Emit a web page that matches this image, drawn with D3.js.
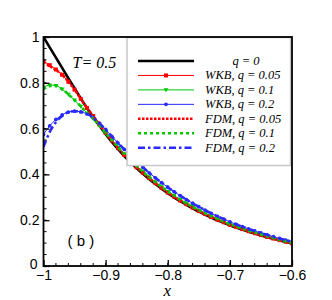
<!DOCTYPE html>
<html>
<head>
<meta charset="utf-8">
<script src="https://cdn.jsdelivr.net/npm/d3@7"></script>
<style>
  body { margin: 0; background: #fff; }
  svg { display: block; }
</style>
</head>
<body>
<script>
// x grid shared by every curve
var xs = [-1.00, -0.99, -0.98, -0.97, -0.96, -0.95, -0.94, -0.93, -0.92, -0.91,
          -0.90, -0.89, -0.88, -0.87, -0.86, -0.85, -0.84, -0.83, -0.82, -0.81,
          -0.80, -0.79, -0.78, -0.77, -0.76, -0.75, -0.74, -0.73, -0.72, -0.71,
          -0.70, -0.69, -0.68, -0.67, -0.66, -0.65, -0.64, -0.63, -0.62, -0.61, -0.60];

var q0 = [1.000, 0.955, 0.910, 0.865, 0.820, 0.776, 0.732, 0.690, 0.650, 0.612,
          0.576, 0.542, 0.510, 0.480, 0.453, 0.427, 0.403, 0.380, 0.358, 0.338,
          0.318, 0.300, 0.283, 0.267, 0.252, 0.238, 0.225, 0.212, 0.200, 0.189,
          0.178, 0.168, 0.159, 0.150, 0.142, 0.134, 0.126, 0.119, 0.112, 0.105, 0.098];

var wkb05 = [0.895, 0.877, 0.858, 0.835, 0.805, 0.770, 0.730, 0.690, 0.655, 0.618,
             0.582, 0.548, 0.515, 0.485, 0.457, 0.431, 0.407, 0.384, 0.362, 0.341,
             0.321, 0.303, 0.286, 0.270, 0.255, 0.240, 0.227, 0.214, 0.202, 0.191,
             0.180, 0.170, 0.161, 0.152, 0.143, 0.135, 0.127, 0.120, 0.113, 0.106, 0.099];

var wkb10 = [0.780, 0.790, 0.788, 0.772, 0.750, 0.724, 0.697, 0.668, 0.643, 0.613,
             0.580, 0.550, 0.519, 0.490, 0.462, 0.436, 0.412, 0.389, 0.367, 0.346,
             0.326, 0.308, 0.290, 0.274, 0.259, 0.244, 0.231, 0.218, 0.206, 0.194,
             0.183, 0.173, 0.164, 0.155, 0.146, 0.138, 0.130, 0.122, 0.115, 0.108, 0.101];

var wkb20 = [0.575, 0.612, 0.640, 0.660, 0.672, 0.676, 0.673, 0.664, 0.648, 0.624,
             0.596, 0.566, 0.537, 0.509, 0.482, 0.456, 0.431, 0.407, 0.385, 0.364,
             0.344, 0.325, 0.307, 0.290, 0.274, 0.259, 0.244, 0.230, 0.217, 0.205,
             0.193, 0.182, 0.172, 0.162, 0.153, 0.144, 0.136, 0.128, 0.120, 0.113, 0.106];

var fdm05 = [0.890, 0.873, 0.856, 0.835, 0.805, 0.770, 0.730, 0.690, 0.655, 0.618,
             0.582, 0.548, 0.515, 0.485, 0.457, 0.431, 0.407, 0.384, 0.362, 0.341,
             0.321, 0.303, 0.286, 0.270, 0.255, 0.240, 0.227, 0.214, 0.202, 0.191,
             0.180, 0.170, 0.161, 0.152, 0.143, 0.135, 0.127, 0.120, 0.113, 0.106, 0.099];

var fdm10 = [0.772, 0.786, 0.786, 0.772, 0.750, 0.724, 0.697, 0.668, 0.643, 0.613,
             0.580, 0.550, 0.519, 0.490, 0.462, 0.436, 0.412, 0.389, 0.367, 0.346,
             0.326, 0.308, 0.290, 0.274, 0.259, 0.244, 0.231, 0.218, 0.206, 0.194,
             0.183, 0.173, 0.164, 0.155, 0.146, 0.138, 0.130, 0.122, 0.115, 0.108, 0.101];

var fdm20 = [0.520, 0.585, 0.628, 0.655, 0.672, 0.676, 0.673, 0.664, 0.648, 0.624,
             0.596, 0.566, 0.537, 0.509, 0.482, 0.456, 0.431, 0.407, 0.385, 0.364,
             0.344, 0.325, 0.307, 0.290, 0.274, 0.259, 0.244, 0.230, 0.217, 0.205,
             0.193, 0.182, 0.172, 0.162, 0.153, 0.144, 0.136, 0.128, 0.120, 0.113, 0.106];

var xTicks = [-1, -0.9, -0.8, -0.7, -0.6];
var yTicks = [0, 0.2, 0.4, 0.6, 0.8, 1];
var legendLabels = ["q = 0", "WKB, q = 0.05", "WKB, q = 0.1", "WKB, q = 0.2",
                    "FDM, q = 0.05", "FDM, q = 0.1", "FDM, q = 0.2"];

var RED = "#ff0000", GREEN = "#00c800", BLUE = "#2a2aff";

// series styling, order = legend order
var series = [
  { y: q0,    color: "#000", width: 2.6, dash: null,        marker: null },
  { y: wkb05, color: RED,    width: 1,   dash: null,        marker: "square" },
  { y: wkb10, color: GREEN,  width: 1,   dash: null,        marker: "triangle" },
  { y: wkb20, color: BLUE,   width: 1,   dash: null,        marker: "circle" },
  { y: fdm05, color: RED,    width: 2.6, dash: "2.5,1.5",   marker: null },
  { y: fdm10, color: GREEN,  width: 2.6, dash: "3,3",       marker: null },
  { y: fdm20, color: BLUE,   width: 2.6, dash: "7,3,2.5,3", marker: null }
];

var svgWidth = 332, svgHeight = 300;
var margin = { top: 37, right: 40, bottom: 34, left: 43.5 };
var chartWidth = svgWidth - margin.left - margin.right;
var chartHeight = svgHeight - margin.top - margin.bottom;

var svg = d3.select("body").append("svg")
  .attr("width", svgWidth)
  .attr("height", svgHeight);

var chartGroup = svg.append("g")
  .attr("transform", `translate(${margin.left}, ${margin.top})`);

var xScale = d3.scaleLinear().domain([-1, -0.6]).range([0, chartWidth]);
var yScale = d3.scaleLinear().domain([0, 1]).range([chartHeight, 0]);

svg.append("defs").append("clipPath").attr("id", "clip")
  .append("rect").attr("width", chartWidth).attr("height", chartHeight);

var plot = chartGroup.append("g").attr("clip-path", "url(#clip)");

var line = d3.line()
  .x((d, i) => xScale(xs[i]))
  .y(d => yScale(d))
  .curve(d3.curveMonotoneX);

function drawMarker(g, type, cx, cy, color) {
  if (type === "square") {
    g.append("rect").attr("x", cx - 2).attr("y", cy - 2)
      .attr("width", 4).attr("height", 4).attr("fill", color);
  } else if (type === "triangle") {
    g.append("path")
      .attr("d", `M${cx - 2.4},${cy - 1.6}L${cx + 2.4},${cy - 1.6}L${cx},${cy + 2.4}Z`)
      .attr("fill", color);
  } else if (type === "circle") {
    g.append("circle").attr("cx", cx).attr("cy", cy).attr("r", 1.9).attr("fill", color);
  }
}

series.forEach(function (s) {
  plot.append("path")
    .attr("d", line(s.y))
    .attr("fill", "none")
    .attr("stroke", s.color)
    .attr("stroke-width", s.width)
    .attr("stroke-dasharray", s.dash);
  if (s.marker) {
    s.y.forEach(function (v, i) {
      drawMarker(plot, s.marker, xScale(xs[i]), yScale(v), s.color);
    });
  }
});

// legend (top right, touching the frame)
var legend = chartGroup.append("g");
var lgX = 83.5, lgW = chartWidth - lgX - 1.5, lgH = 128;
legend.append("rect")
  .attr("x", lgX).attr("y", 0.5)
  .attr("width", lgW).attr("height", lgH)
  .attr("fill", "#fff")
  .attr("stroke", "#c8c8c8")
  .attr("stroke-width", 1.5);

series.forEach(function (s, i) {
  var ly = 24 + i * 14.45;
  legend.append("line")
    .attr("x1", lgX + 11).attr("x2", lgX + 67)
    .attr("y1", ly).attr("y2", ly)
    .attr("stroke", s.color)
    .attr("stroke-width", s.width)
    .attr("stroke-dasharray", s.dash);
  if (s.marker) drawMarker(legend, s.marker, lgX + 39, ly, s.color);
  legend.append("text")
    .attr("x", i === 0 ? lgX + 119 : lgX + 78)
    .attr("y", ly + 4)
    .attr("text-anchor", i === 0 ? "middle" : "start")
    .style("font-family", "'Liberation Serif', 'DejaVu Serif', serif")
    .style("font-style", "italic")
    .style("font-size", "12.5px")
    .text(legendLabels[i]);
});

// axes: ticks inside, only left and bottom
var bottomAxis = d3.axisBottom(xScale).tickValues(xTicks)
  .tickSize(-6).tickPadding(4).tickFormat(d => d3.format("")(d));
var leftAxis = d3.axisLeft(yScale).tickValues(yTicks)
  .tickSize(-6).tickPadding(4).tickFormat(d => d3.format("")(d));

var minorX = d3.range(0, 21).map(i => -1 + i * 0.02);
var minorY = d3.range(0, 21).map(i => i * 0.05);

chartGroup.append("g")
  .attr("transform", "translate(0, " + chartHeight + ")")
  .selectAll("line").data(minorX).enter().append("line")
  .attr("x1", d => xScale(d)).attr("x2", d => xScale(d))
  .attr("y1", 0).attr("y2", -3)
  .attr("stroke", "#000").attr("stroke-width", 1);

chartGroup.append("g")
  .selectAll("line").data(minorY).enter().append("line")
  .attr("x1", 0).attr("x2", 3)
  .attr("y1", d => yScale(d)).attr("y2", d => yScale(d))
  .attr("stroke", "#000").attr("stroke-width", 1);

var gx = chartGroup.append("g")
  .attr("transform", "translate(0, " + chartHeight + ")")
  .call(bottomAxis);
var gy = chartGroup.append("g").call(leftAxis);

[gx, gy].forEach(function (g) {
  g.select(".domain").remove();
  g.selectAll(".tick line").attr("stroke", "#000").attr("stroke-width", 1.3);
  g.selectAll(".tick text")
    .attr("fill", "#000")
    .style("font-family", "'Liberation Sans', Arial, sans-serif")
    .style("font-size", "14px");
});

// the "0" of the y axis sits up-left of the "-1" corner label
gy.selectAll(".tick text").filter(d => d === 0)
  .attr("x", -6).attr("dy", "0.2em");

// frame
chartGroup.append("rect")
  .attr("width", chartWidth).attr("height", chartHeight)
  .attr("fill", "none")
  .attr("stroke", "#000")
  .attr("stroke-width", 1.8);

// annotations
chartGroup.append("text")
  .attr("x", 29).attr("y", 31)
  .style("font-family", "'Liberation Serif', serif")
  .style("font-style", "italic")
  .style("font-size", "16px")
  .text("T= 0.5");

chartGroup.append("text")
  .attr("x", 24).attr("y", 209)
  .style("font-family", "'Liberation Sans', Arial, sans-serif")
  .style("font-size", "15px")
  .text("( b )");

svg.append("text")
  .attr("x", margin.left + chartWidth / 2 - 0.5)
  .attr("y", 296)
  .attr("text-anchor", "middle")
  .style("font-family", "'Liberation Serif', serif")
  .style("font-style", "italic")
  .style("font-size", "17px")
  .text("x");
</script>
</body>
</html>
